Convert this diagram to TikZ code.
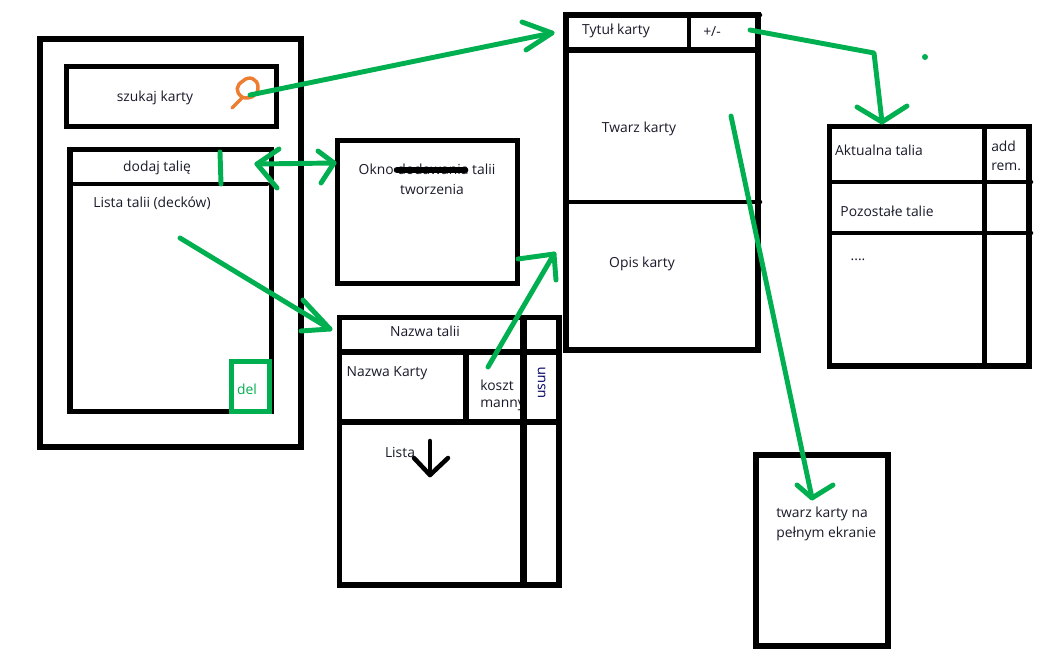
\documentclass[tikz,border=0pt]{standalone}
\usepackage{fontspec}
\setmainfont{Open Sans}
\definecolor{pgreen}{HTML}{00B050}
\definecolor{porange}{HTML}{ED7D31}
\definecolor{inkd}{HTML}{1A1A2A}
\tikzset{
  frame/.style={draw=black,line width=3.9pt,fill=none},
  rule/.style={draw=black,line width=3.4pt,line cap=round},
  flow/.style={draw=pgreen,line width=3.7pt,line cap=round,line join=round},
  lbl/.style={inner sep=0pt,font=\fontsize{10.4}{12}\selectfont,text=inkd,yshift=-1pt},
}
\begin{document}
\begin{tikzpicture}[x=0.75pt,y=-0.75pt]
\useasboundingbox (0,0) rectangle (1053,653);
\fill[white] (0,0) rectangle (1053,653);
% texts under the lines
\node[lbl] (tSearch) at (155,97) {szukaj karty};
\node[lbl] (tAdd) at (157,167) {dodaj talię};
\node[lbl] (tList) at (152,202) {Lista talii (decków)};
\node[lbl] (tOkno) at (427,168) {Okno dodawania talii};
\node[lbl] (tTworz) at (432,188) {tworzenia};
\node[lbl] (tNazwaT) at (425,330) {Nazwa talii};
\node[lbl] (tNazwaK) at (387,372) {Nazwa Karty};
\node[lbl,anchor=west] (tKoszt) at (480,384) {koszt};
\node[lbl,anchor=west] (tManny) at (480,404) {manny};
\node[lbl,rotate=90,text=blue!40!black,xshift=2pt,yshift=1pt] (tUsun) at (543,384) {usun};
\node[lbl] (tLista) at (400,451) {Lista};
\node[lbl] (tTytul) at (616,30) {Tytuł karty};
\node[lbl] (tPM) at (712,30) {+/-};
\node[lbl] (tTwarz) at (639,128) {Twarz karty};
\node[lbl] (tOpis) at (642,263) {Opis karty};
\node[lbl] (tAkt) at (879,149) {Aktualna talia};
\node[lbl,anchor=west] (tAdd2) at (991,145) {add};
\node[lbl,anchor=west] (tRem) at (991,165) {rem.};
\node[lbl] (tPoz) at (887,210) {Pozostałe talie};
\node[lbl] (tDots) at (858,258) {....};
\node[lbl,anchor=west] (tFull1) at (776,513) {twarz karty na};
\node[lbl,anchor=west] (tFull2) at (776,533) {pełnym ekranie};
\node[lbl,text=pgreen] (tDel) at (247,388) {del};
% named points
\coordinate (sStart) at (250,95);
\coordinate (sTip) at (552,33);
\coordinate (aL) at (257,164);
\coordinate (aR) at (334,163);
\coordinate (lStart) at (180,238);
\coordinate (lTip) at (330,329);
\coordinate (kStart) at (488,367);
\coordinate (kTip) at (554,254);
\coordinate (oStart) at (518,259);
\coordinate (pStart) at (750,30);
\coordinate (pBend) at (874,53);
\coordinate (pTip) at (882,122);
\coordinate (fStart) at (731,116);
\coordinate (fTip) at (812,498);
\coordinate (dTop) at (430,441);
\coordinate (dTip) at (430,475);
% left screen
\draw[frame] (40,39) rectangle (301,447);
\draw[frame] (66.5,66.5) rectangle (276.5,126.5);
\draw[frame] (70,149.5) rectangle (271.5,411.5);
\draw[rule] (74,184) -- (267,184);
% window
\draw[frame] (337.5,140.5) rectangle (517.5,283.5);
\draw[draw=black,line width=5pt,line cap=round] (397,170) -- (465,170);
% deck view
\draw[frame] (339.5,317.5) rectangle (559,585);
\draw[frame] (339.5,352) -- (559,352);
\draw[frame] (339.5,422) -- (559,422);
\draw[frame] (466,352) -- (466,422);
\draw[draw=black,line width=5.6pt] (523.5,316) -- (523.5,587);
% card
\draw[frame] (566,15) rectangle (758,350);
\draw[frame] (566,50) -- (758,50);
\draw[draw=black,line width=3pt] (689,15) -- (689,50);
\draw[rule] (569,202) -- (760,202);
\draw[rule] (566,15) -- (760,15);
% right list
\draw[frame] (829.5,126.5) rectangle (1029,366);
\draw[draw=black,line width=3.4pt] (984.5,126) -- (984.5,368);
\draw[rule] (831,182) -- (1031,182);
\draw[rule] (831,233) -- (1031,233);
% full screen face
\draw[frame] (756,455) rectangle (888,646);
% black arrow
\draw[rule,line join=round] (dTop) -- (dTip);
\draw[rule,line join=round] (414,458) -- (dTip) -- (448,458);
% magnifier
\draw[draw=porange,line width=2.6pt,line cap=round]
  (243,81) .. controls (249,75) and (258,79) .. (258,87)
  .. controls (259,96) and (248,100) .. (242,97)
  .. controls (235,92) and (236,85) .. (243,81);
\draw[draw=porange,line width=2.6pt,line cap=round] (242,98) -- (232,108);
% green marks
\draw[draw=pgreen,line width=3.75pt] (231,361) rectangle (269,411);
\draw[flow] (220,152) -- (221,184);
\draw[flow] (sStart) -- (sTip);
\draw[flow] (522,22) -- (sTip) -- (526,50);
\draw[flow] (aL) -- (aR);
\draw[flow] (279,149) -- (aL) -- (277,188);
\draw[flow] (318,151) -- (aR) -- (321,183);
\draw[flow] (lStart) -- (lTip);
\draw[flow] (303,300) -- (lTip) -- (301,331);
\draw[flow] (kStart) -- (kTip);
\draw[flow] (oStart) -- (kTip) -- (556,280);
\draw[flow] (pStart) -- (pBend) -- (pTip);
\draw[flow] (857,107) -- (pTip) -- (907,106);
\draw[flow] (fStart) -- (fTip);
\draw[flow] (797,485) -- (fTip) -- (833,485);
\fill[pgreen] (925,57) circle (3);
\end{tikzpicture}
\end{document}
